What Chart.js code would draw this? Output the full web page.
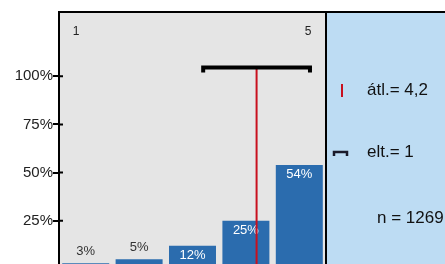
<!DOCTYPE html>
<html>
<head>
<meta charset="utf-8">
<script src="https://cdn.jsdelivr.net/npm/chart.js@4/dist/chart.umd.min.js"></script>
<style>
  html, body { margin: 0; padding: 0; background: #fff; overflow: hidden; }
  #wrap { width: 445px; height: 278px; }
</style>
</head>
<body>
<div id="wrap"><canvas id="graph"></canvas></div>
<script>
const categories = ['1', '2', '3', '4', '5']
const shares = [3, 5, 12, 25, 54]
const yTicks = [25, 50, 75, 100]
const mean = 4.2
const sd = 1
const n = 1269

const FONT = '"Liberation Sans", Arial, sans-serif'

const decor = {
  id: 'decor',
  beforeDraw(chart) {
    const { ctx, chartArea: { left, top, right, bottom } } = chart
    ctx.save()
    ctx.fillStyle = '#e5e5e5'
    ctx.fillRect(left, top, right - left, bottom - top)
    ctx.fillStyle = '#bddcf3'
    ctx.fillRect(right, top, chart.width - right, bottom - top)
    ctx.restore()
  },
  afterDatasetsDraw(chart) {
    const { ctx, chartArea: { left, top, right, bottom }, scales: { x, y } } = chart
    const meta = chart.getDatasetMeta(0)
    ctx.save()
    ctx.font = '13px ' + FONT
    ctx.textAlign = 'center'
    ctx.textBaseline = 'middle'
    meta.data.forEach((bar, i) => {
      if (shares[i] < 10) {
        ctx.fillStyle = '#333'
        ctx.fillText(shares[i] + '%', bar.x, bar.y - 12)
      } else {
        ctx.fillStyle = '#fff'
        ctx.fillText(shares[i] + '%', bar.x, bar.y + 10)
      }
    })

    // end labels of the scale
    ctx.font = '12px ' + FONT
    ctx.fillStyle = '#222'
    ctx.fillText(categories[0], left + 17, top + 20)
    ctx.fillText(categories[categories.length - 1], right - 18, top + 20)

    // mean line
    const mx = x.getPixelForValue(mean - 1)
    const ey = y.getPixelForValue(104)
    ctx.strokeStyle = '#c8101e'
    ctx.lineWidth = 2
    ctx.beginPath()
    ctx.moveTo(mx, ey)
    ctx.lineTo(mx, bottom)
    ctx.stroke()

    // sd bracket
    const x0 = x.getPixelForValue(mean - sd - 1)
    const x1 = x.getPixelForValue(mean + sd - 1)
    ctx.strokeStyle = '#000'
    ctx.lineWidth = 4
    ctx.lineCap = 'butt'
    ctx.beginPath()
    ctx.moveTo(x0, ey + 4)
    ctx.lineTo(x0, ey - 1)
    ctx.lineTo(x1, ey - 1)
    ctx.lineTo(x1, ey + 4)
    ctx.stroke()
    ctx.restore()
  },
  afterDraw(chart) {
    const { ctx, chartArea: { left, top, right, bottom }, scales: { y } } = chart
    ctx.save()
    ctx.strokeStyle = '#000'
    ctx.lineWidth = 2
    ctx.beginPath()
    ctx.moveTo(left - 1, top)
    ctx.lineTo(chart.width, top)
    ctx.moveTo(right, top)
    ctx.lineTo(right, bottom)
    yTicks.forEach(v => {
      const py = y.getPixelForValue(v)
      ctx.moveTo(left, py)
      ctx.lineTo(left + 4, py)
    })
    ctx.stroke()

    // legend panel
    const px = right + 41
    ctx.strokeStyle = '#c8101e'
    ctx.lineWidth = 2
    ctx.beginPath()
    ctx.moveTo(right + 16, 84)
    ctx.lineTo(right + 16, 97)
    ctx.stroke()

    ctx.strokeStyle = '#1a1a2a'
    ctx.lineWidth = 2.5
    ctx.beginPath()
    ctx.moveTo(right + 8, 156)
    ctx.lineTo(right + 8, 152)
    ctx.lineTo(right + 21, 152)
    ctx.lineTo(right + 21, 156)
    ctx.stroke()

    ctx.fillStyle = '#111'
    ctx.font = '17px ' + FONT
    ctx.textAlign = 'left'
    ctx.textBaseline = 'middle'
    ctx.fillText('átl.= ' + String(mean).replace('.', ','), px, 90)
    ctx.fillText('elt.= ' + sd, px, 152)
    ctx.fillText('n = ' + n, px + 10, 218)
    ctx.restore()
  }
}

new Chart(document.getElementById('graph'), {
  type: 'bar',
  plugins: [decor],
  data: {
    labels: categories,
    datasets: [{
      data: shares,
      backgroundColor: '#2b6cae',
      barPercentage: 0.88,
      categoryPercentage: 1
    }]
  },
  options: {
    responsive: true,
    maintainAspectRatio: false,
    animation: false,
    layout: { padding: { top: 12, right: 119, left: 0, bottom: 0 } },
    plugins: { legend: false, tooltip: false },
    scales: {
      x: { display: false },
      y: {
        min: 0,
        max: 133.3,
        afterFit(scale) { scale.width = 59 },
        afterBuildTicks(scale) { scale.ticks = yTicks.map(v => ({ value: v })) },
        grid: { drawOnChartArea: false, tickLength: 6, color: '#000', lineWidth: 2 },
        border: { color: '#000', width: 2 },
        ticks: {
          padding: 0,
          color: '#222',
          font: { family: FONT, size: 15 },
          callback: v => v + '%'
        }
      }
    }
  }
})
</script>
</body>
</html>
